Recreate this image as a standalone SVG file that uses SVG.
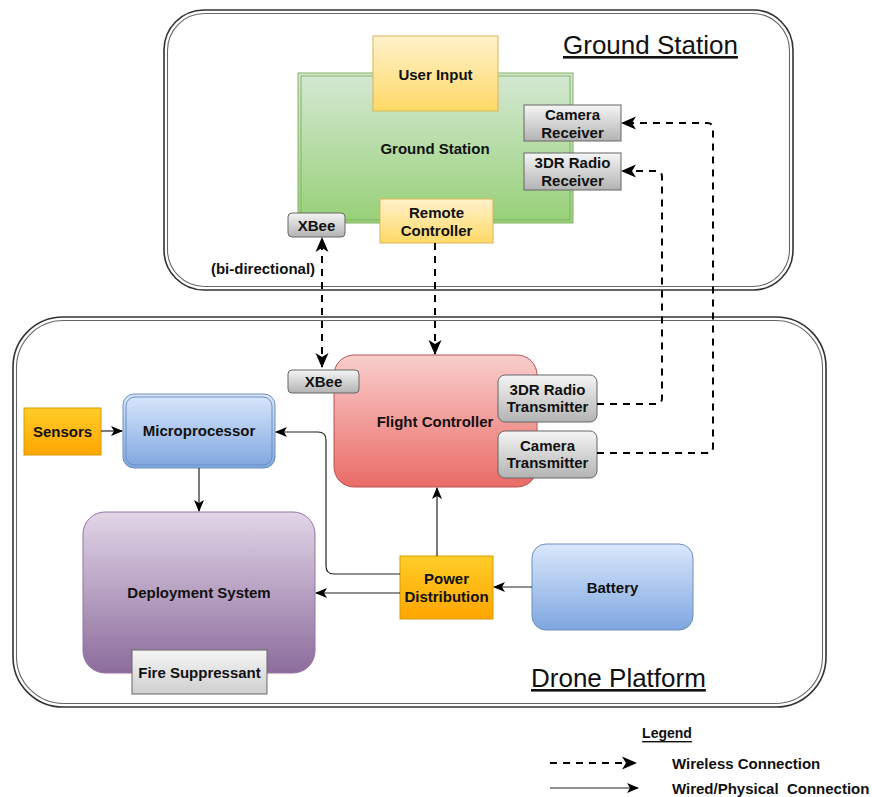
<svg xmlns="http://www.w3.org/2000/svg" width="872" height="797" viewBox="0 0 872 797">
  <defs>
    <linearGradient id="gGreen" x1="0" y1="0" x2="0" y2="1"><stop offset="0" stop-color="#d5e8d4"/><stop offset="1" stop-color="#97d077"/></linearGradient>
    <linearGradient id="gYellow" x1="0" y1="0" x2="0" y2="1"><stop offset="0" stop-color="#fff2cc"/><stop offset="1" stop-color="#ffd966"/></linearGradient>
    <linearGradient id="gGray" x1="0" y1="0" x2="0" y2="1"><stop offset="0" stop-color="#f5f5f5"/><stop offset="1" stop-color="#b3b3b3"/></linearGradient>
    <linearGradient id="gLight" x1="0" y1="0" x2="0" y2="1"><stop offset="0" stop-color="#f5f5f5"/><stop offset="1" stop-color="#cfcfcf"/></linearGradient>
    <linearGradient id="gRed" x1="0" y1="0" x2="0" y2="1"><stop offset="0" stop-color="#f8cecc"/><stop offset="1" stop-color="#ea6b66"/></linearGradient>
    <linearGradient id="gBlue" x1="0" y1="0" x2="0" y2="1"><stop offset="0" stop-color="#dae8fc"/><stop offset="1" stop-color="#7ea6e0"/></linearGradient>
    <linearGradient id="gPurple" x1="0" y1="0" x2="0" y2="1"><stop offset="0" stop-color="#e1d5e7"/><stop offset="1" stop-color="#8c6c9c"/></linearGradient>
    <linearGradient id="gOrange" x1="0" y1="0" x2="0" y2="1"><stop offset="0" stop-color="#ffcd28"/><stop offset="1" stop-color="#ffa500"/></linearGradient>
    <marker id="arr" viewBox="0 0 12 12" refX="11" refY="6" markerWidth="12" markerHeight="12" markerUnits="userSpaceOnUse" orient="auto">
      <path d="M0,1 L12,6 L0,11 L3,6 z" fill="#000"/>
    </marker>
    <marker id="arrBig" viewBox="0 0 15 15" refX="14" refY="7.5" markerWidth="15" markerHeight="15" markerUnits="userSpaceOnUse" orient="auto">
      <path d="M0,1 L15,7.5 L0,14 L4,7.5 z" fill="#000"/>
    </marker>
    <marker id="arrStart" viewBox="0 0 15 15" refX="1" refY="7.5" markerWidth="15" markerHeight="15" markerUnits="userSpaceOnUse" orient="auto">
      <path d="M15,1 L0,7.5 L15,14 L11,7.5 z" fill="#000"/>
    </marker>
  </defs>
  <style>
    text { font-family: "Liberation Sans", Arial, Helvetica, sans-serif; font-weight: bold; font-size: 15px; fill: #111; text-anchor: middle; dominant-baseline: central; }
    .title { font-weight: normal; font-size: 26px; text-anchor: start; dominant-baseline: alphabetic; text-decoration: underline; }
    .legend { text-anchor: start; }
    .outer { fill: none; stroke: #333; stroke-width: 1.6; }
    .outerIn { fill: none; stroke: #666; stroke-width: 1.1; }
    .wire { fill: none; stroke: #222; stroke-width: 1.2; marker-end: url(#arr); }
    .wless { fill: none; stroke: #000; stroke-width: 2; stroke-dasharray: 7 6; marker-end: url(#arrBig); }
    .gray { fill: url(#gGray); stroke: #666; stroke-width: 1; }
  </style>

  <rect width="872" height="797" fill="#ffffff"/>

  <!-- containers -->
  <g id="ground-station-area">
    <rect class="outer" x="164" y="10" width="629" height="280" rx="40"/>
    <rect class="outerIn" x="167.5" y="13.5" width="622" height="273" rx="37"/>
    <text class="title" x="563" y="54">Ground Station</text>
  </g>
  <g id="drone-platform-area">
    <rect class="outer" x="13" y="317" width="813" height="390" rx="50"/>
    <rect class="outerIn" x="16.5" y="320.5" width="806" height="383" rx="47"/>
    <text class="title" x="531" y="687">Drone Platform</text>
  </g>

  <!-- ground station nodes -->
  <g id="ground-station">
    <rect x="298" y="73" width="275" height="150" fill="url(#gGreen)" stroke="#82b366" stroke-width="1"/>
    <rect x="301" y="76" width="269" height="144" fill="none" stroke="#82b366" stroke-width="1"/>
    <text x="435" y="148">Ground Station</text>
  </g>
  <g id="user-input">
    <rect x="373" y="36" width="125" height="75" fill="url(#gYellow)" stroke="#d6b656" stroke-width="1"/>
    <text x="435.5" y="74">User Input</text>
  </g>
  <g id="camera-receiver">
    <rect class="gray" x="524" y="105" width="97" height="36"/>
    <text x="572.5" y="114">Camera</text>
    <text x="572.5" y="132">Receiver</text>
  </g>
  <g id="radio-receiver">
    <rect class="gray" x="524" y="153" width="97" height="37"/>
    <text x="572.5" y="162">3DR Radio</text>
    <text x="572.5" y="180">Receiver</text>
  </g>
  <g id="xbee-ground">
    <rect class="gray" x="288" y="213" width="57" height="24" rx="4"/>
    <text x="316.5" y="225">XBee</text>
  </g>
  <g id="remote-controller">
    <rect x="380" y="199" width="113" height="44" fill="url(#gYellow)" stroke="#d6b656" stroke-width="1"/>
    <text x="436.5" y="212">Remote</text>
    <text x="436.5" y="230">Controller</text>
  </g>
  <text x="263" y="268">(bi-directional)</text>

  <!-- drone nodes -->
  <g id="flight-controller">
    <rect x="334" y="355" width="203" height="132" rx="20" fill="url(#gRed)" stroke="#b85450" stroke-width="1"/>
    <text x="435" y="421">Flight Controller</text>
  </g>
  <g id="xbee-drone">
    <rect class="gray" x="288" y="370" width="71" height="23" rx="4"/>
    <text x="323.5" y="381.5">XBee</text>
  </g>
  <g id="radio-transmitter">
    <rect class="gray" x="498" y="375" width="99" height="47" rx="7"/>
    <text x="547.5" y="389">3DR Radio</text>
    <text x="547.5" y="406">Transmitter</text>
  </g>
  <g id="camera-transmitter">
    <rect class="gray" x="498" y="431" width="99" height="47" rx="7"/>
    <text x="547.5" y="445">Camera</text>
    <text x="547.5" y="462">Transmitter</text>
  </g>
  <g id="sensors">
    <rect x="24" y="408" width="77" height="47" fill="url(#gOrange)" stroke="#d79b00" stroke-width="1"/>
    <text x="62.5" y="431.5">Sensors</text>
  </g>
  <g id="microprocessor">
    <rect x="123" y="394" width="152" height="74" rx="11" fill="url(#gBlue)" stroke="#6c8ebf" stroke-width="1"/>
    <rect x="126" y="397" width="146" height="68" rx="9" fill="none" stroke="#6c8ebf" stroke-width="1"/>
    <text x="199" y="430">Microprocessor</text>
  </g>
  <g id="deployment-system">
    <rect x="83" y="512" width="232" height="161" rx="22" fill="url(#gPurple)" stroke="#9673a6" stroke-width="1"/>
    <text x="199" y="592">Deployment System</text>
  </g>
  <g id="fire-suppressant">
    <rect x="132" y="650" width="135" height="44" fill="url(#gLight)" stroke="#666" stroke-width="1"/>
    <text x="199.5" y="672">Fire Suppressant</text>
  </g>
  <g id="power-distribution">
    <rect x="400" y="556" width="93" height="63" fill="url(#gOrange)" stroke="#d79b00" stroke-width="1"/>
    <text x="446.5" y="578">Power</text>
    <text x="446.5" y="596">Distribution</text>
  </g>
  <g id="battery">
    <rect x="532" y="544" width="161" height="86" rx="14" fill="url(#gBlue)" stroke="#6c8ebf" stroke-width="1"/>
    <text x="612.5" y="587">Battery</text>
  </g>

  <!-- connectors -->
  <g id="connectors">
    <path class="wless" d="M322,367 L322,238" marker-start="url(#arrStart)"/>
    <path class="wless" d="M435,243 L435,354"/>
    <path class="wless" d="M597,404 L656,404 Q662,404 662,398 L662,177 Q662,171 656,171 L622,171"/>
    <path class="wless" d="M597,453 L707,453 Q713,453 713,447 L713,129 Q713,123 707,123 L622,123"/>
    <path class="wire" d="M101,431 L122,431"/>
    <path class="wire" d="M199,468 L199,511"/>
    <path class="wire" d="M400,574 L334,574 Q326,574 326,566 L326,440 Q326,432 318,432 L276,432"/>
    <path class="wire" d="M400,593 L316,593"/>
    <path class="wire" d="M437,556 L437,488"/>
    <path class="wire" d="M532,587 L494,587"/>
  </g>

  <!-- legend -->
  <g id="legend">
    <text x="667" y="733" style="font-size:14px;text-decoration:underline">Legend</text>
    <path class="wless" d="M550,763 L636,763"/>
    <path class="wire" d="M550,788 L638,788"/>
    <text class="legend" x="672" y="763">Wireless Connection</text>
    <text class="legend" x="672" y="788" style="white-space:pre">Wired/Physical  Connection</text>
  </g>
</svg>
